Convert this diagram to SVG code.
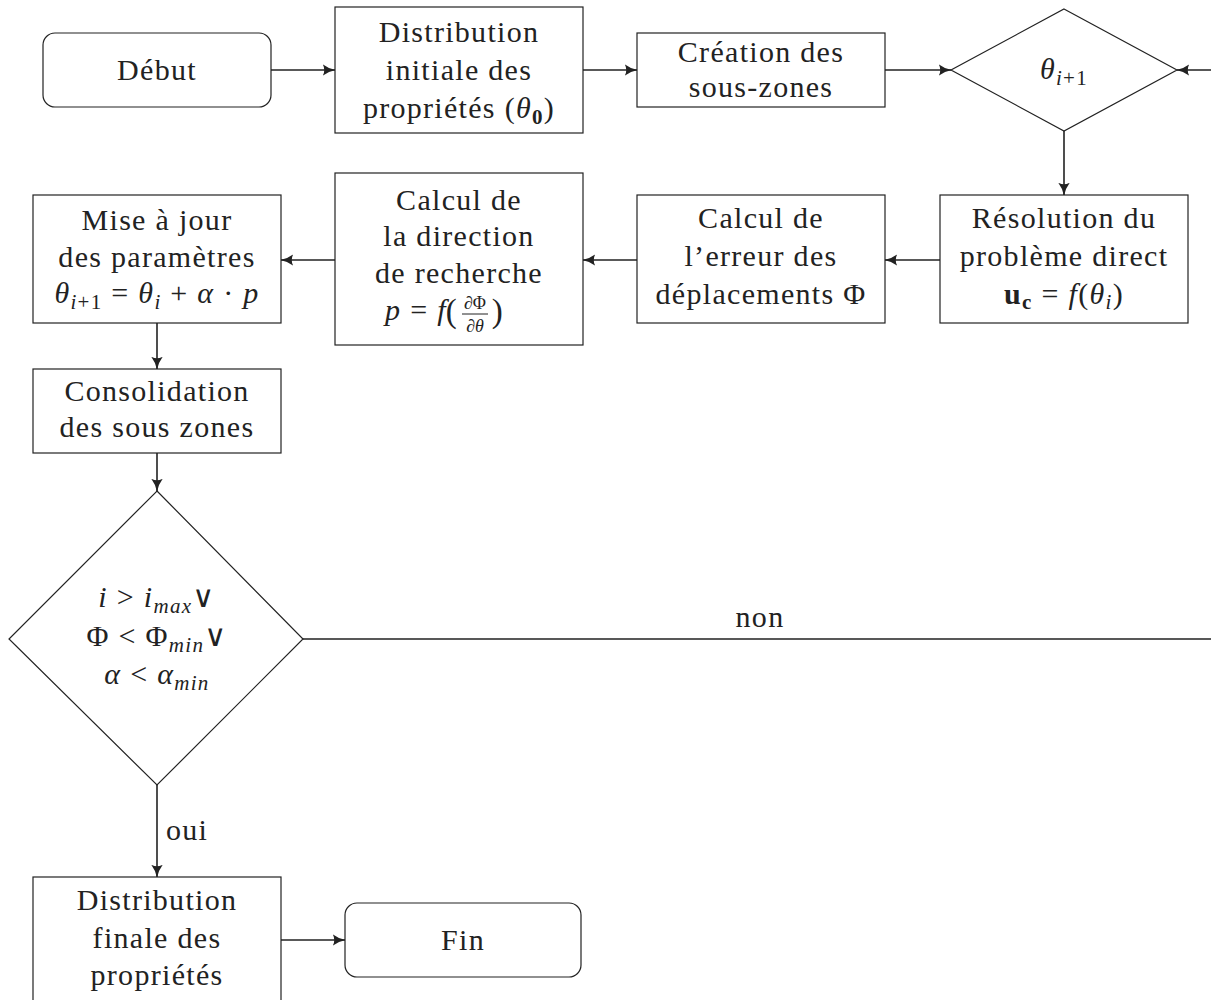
<svg xmlns="http://www.w3.org/2000/svg" width="1211" height="1000" viewBox="0 0 1211 1000">
<defs>
<marker id="arr" viewBox="0 0 10 10" refX="9.5" refY="5" markerWidth="13" markerHeight="13" markerUnits="userSpaceOnUse" orient="auto">
<path d="M0,0.5 Q4.5,4 10,5 Q4.5,6 0,9.5 Q2.5,5 0,0.5 Z" fill="#222"/>
</marker>
<style>
.n{fill:#fff;stroke:#222;stroke-width:1.2}
.t{font-size:30px;fill:#222;text-anchor:middle;letter-spacing:1.3px}
.i{font-style:italic}
.s{font-size:21px}
.b{font-weight:bold}
.c{stroke:#222;stroke-width:1.6;fill:none}
</style>
</defs>
<rect width="1211" height="1000" fill="#fff"/>
<g font-family="Liberation Serif, DejaVu Serif, serif">
<g id="connectors">
<line class="c" x1="271" y1="70" x2="335" y2="70" marker-end="url(#arr)"/>
<line class="c" x1="583" y1="70" x2="637" y2="70" marker-end="url(#arr)"/>
<line class="c" x1="885" y1="70" x2="951" y2="70" marker-end="url(#arr)"/>
<line class="c" x1="1064" y1="131" x2="1064" y2="195" marker-end="url(#arr)"/>
<line class="c" x1="940" y1="260" x2="885" y2="260" marker-end="url(#arr)"/>
<line class="c" x1="637" y1="260" x2="583" y2="260" marker-end="url(#arr)"/>
<line class="c" x1="335" y1="260" x2="281" y2="260" marker-end="url(#arr)"/>
<line class="c" x1="157" y1="323" x2="157" y2="369" marker-end="url(#arr)"/>
<line class="c" x1="157" y1="453" x2="157" y2="491" marker-end="url(#arr)"/>
<path class="c" d="M303,639 H1230 V70 H1177" marker-end="url(#arr)"/>
<line class="c" x1="157" y1="785" x2="157" y2="877" marker-end="url(#arr)"/>
<line class="c" x1="281" y1="940" x2="345" y2="940" marker-end="url(#arr)"/>
<text class="t" x="760" y="627">non</text>
<text class="t" x="187" y="840">oui</text>
</g>
<g id="debut">
<rect class="n" x="43" y="33" width="228" height="74" rx="12"/>
<text class="t" x="157" y="80">Début</text>
</g>
<g id="distribution-initiale">
<rect class="n" x="335" y="7" width="248" height="126"/>
<text class="t" x="459" y="42">Distribution</text>
<text class="t" x="459" y="80">initiale des</text>
<text class="t" x="459" y="118">propriétés (<tspan class="i">θ</tspan><tspan class="s b" dy="6">0</tspan><tspan dy="-6">)</tspan></text>
</g>
<g id="creation">
<rect class="n" x="637" y="33" width="248" height="74"/>
<text class="t" x="761" y="62">Création des</text>
<text class="t" x="761" y="97">sous-zones</text>
</g>
<g id="theta-decision">
<polygon class="n" points="1064,9 1177,70 1064,131 951,70"/>
<text class="t" x="1064" y="79"><tspan class="i">θ</tspan><tspan class="s i" dy="6">i</tspan><tspan class="s">+1</tspan></text>
</g>
<g id="resolution">
<rect class="n" x="940" y="195" width="248" height="128"/>
<text class="t" x="1064" y="228">Résolution du</text>
<text class="t" x="1064" y="266">problème direct</text>
<text class="t" x="1064" y="304"><tspan class="b">u</tspan><tspan class="s b" dy="5">c</tspan><tspan dy="-5"> = </tspan><tspan class="i">f</tspan>(<tspan class="i">θ</tspan><tspan class="s i" dy="5">i</tspan><tspan dy="-5">)</tspan></text>
</g>
<g id="calcul-erreur">
<rect class="n" x="637" y="195" width="248" height="128"/>
<text class="t" x="761" y="228">Calcul de</text>
<text class="t" x="761" y="266">l’erreur des</text>
<text class="t" x="761" y="304">déplacements Φ</text>
</g>
<g id="calcul-direction">
<rect class="n" x="335" y="173" width="248" height="172"/>
<text class="t" x="459" y="210">Calcul de</text>
<text class="t" x="459" y="246">la direction</text>
<text class="t" x="459" y="283">de recherche</text>
<text class="t" x="416" y="320"><tspan class="i">p</tspan> = <tspan class="i">f</tspan></text>
<text class="t" x="452" y="322" style="font-size:33px">(</text>
<text class="t" x="475" y="309" style="font-size:18px;letter-spacing:0"><tspan class="i">∂</tspan>Φ</text>
<line x1="462" y1="314" x2="488" y2="314" stroke="#222" stroke-width="1"/>
<text class="t" x="475" y="332" style="font-size:18px;letter-spacing:0"><tspan class="i">∂θ</tspan></text>
<text class="t" x="498" y="322" style="font-size:33px">)</text>
</g>
<g id="mise-a-jour">
<rect class="n" x="33" y="195" width="248" height="128"/>
<text class="t" x="157" y="230">Mise à jour</text>
<text class="t" x="157" y="267">des paramètres</text>
<text class="t" x="157" y="303"><tspan class="i">θ</tspan><tspan class="s i" dy="6">i</tspan><tspan class="s">+1</tspan><tspan dy="-6"> = </tspan><tspan class="i">θ</tspan><tspan class="s i" dy="6">i</tspan><tspan dy="-6"> + </tspan><tspan class="i">α</tspan> · <tspan class="i">p</tspan></text>
</g>
<g id="consolidation">
<rect class="n" x="33" y="369" width="248" height="84"/>
<text class="t" x="157" y="401">Consolidation</text>
<text class="t" x="157" y="437">des sous zones</text>
</g>
<g id="stop-decision">
<polygon class="n" points="157,491 303,639 157,785 9,639"/>
<text class="t" x="157" y="607"><tspan class="i">i</tspan> &gt; <tspan class="i">i</tspan><tspan class="s i" dy="6">max</tspan><tspan dy="-6">∨</tspan></text>
<text class="t" x="157" y="646">Φ &lt; Φ<tspan class="s i" dy="6">min</tspan><tspan dy="-6">∨</tspan></text>
<text class="t" x="157" y="684"><tspan class="i">α</tspan> &lt; <tspan class="i">α</tspan><tspan class="s i" dy="6">min</tspan></text>
</g>
<g id="distribution-finale">
<rect class="n" x="33" y="877" width="248" height="140"/>
<text class="t" x="157" y="910">Distribution</text>
<text class="t" x="157" y="948">finale des</text>
<text class="t" x="157" y="985">propriétés</text>
</g>
<g id="fin">
<rect class="n" x="345" y="903" width="236" height="74" rx="12"/>
<text class="t" x="463" y="950">Fin</text>
</g>
</g>
</svg>
